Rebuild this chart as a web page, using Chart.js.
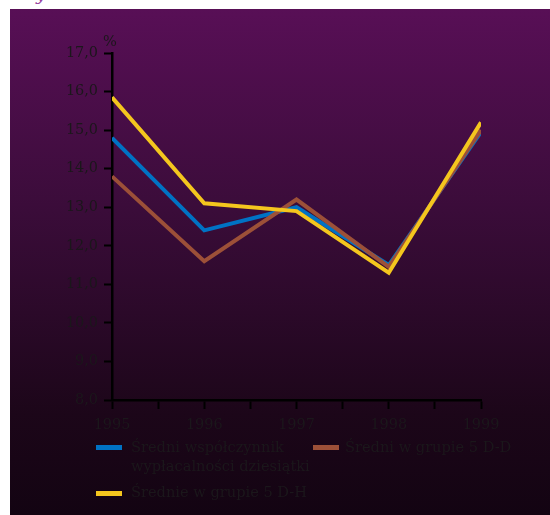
<!DOCTYPE html>
<html>
<head>
<meta charset="utf-8">
<script src="https://cdn.jsdelivr.net/npm/chart.js@4.4.1/dist/chart.umd.min.js"></script>
<style>
    html, body { margin: 0; padding: 0; background: #fff; }
    body { width: 550px; height: 515px; position: relative; overflow: hidden; font-family: 'DejaVu Serif', serif; }
    #caption { position: absolute; left: 36px; top: -16px; font-size: 17px; font-style: italic; color: #9a44a0; }
    #panel {
        position: absolute; left: 10px; top: 9px; width: 540px; height: 506px;
        background: linear-gradient(to bottom, #580f56 0%, #3a0c39 40%, #1c0619 80%, #130412 100%);
    }
    #chart { position: absolute; left: 0; top: 0; }
    .txt { position: absolute; color: #1b171b; font-size: 14.6px; line-height: 19px; white-space: nowrap; }
    .swatch { position: absolute; width: 26px; height: 5px; }
</style>
</head>
<body>
<div id="caption">y</div>
<div id="panel">
    <canvas id="chart" width="540" height="506"></canvas>
    <div class="txt" style="left:93px; top:22px;">%</div>

    <!-- legend -->
    <div class="swatch" style="left:86px; top:436px; background:#0072c4;"></div>
    <div class="txt" style="left:121px; top:428px;">Średni współczynnik<br>wypłacalności dziesiątki</div>
    <div class="swatch" style="left:303px; top:436px; background:#9c5038;"></div>
    <div class="txt" style="left:335px; top:428px;">Średni w grupie 5 D-D</div>
    <div class="swatch" style="left:86px; top:482px; background:#f4c61e;"></div>
    <div class="txt" style="left:121px; top:473px;">Średnie w grupie 5 D-H</div>
</div>

<script>
// years on the x axis
const years = [1995, 1996, 1997, 1998, 1999];

// series values (%)
const sredniWsp = [14.8, 12.4, 13.0, 11.5, 14.95];
const grupaDD = [13.8, 11.6, 13.2, 11.45, 15.0];
const grupaDH = [15.85, 13.1, 12.9, 11.3, 15.2];

// y axis range
const yMin = 8;
const yMax = 17;
const yStep = 1;

const textColor = '#1b171b';
const axisFont = { family: 'DejaVu Serif', size: 14.4 };

function toPoints(values) {
    return values.map((v, i) => ({ x: years[i], y: v }));
}

function lineSet(label, values, color, order) {
    return {
        label: label,
        data: toPoints(values),
        borderColor: color,
        backgroundColor: color,
        borderWidth: 4,
        borderJoinStyle: 'miter',
        borderCapStyle: 'butt',
        pointRadius: 0,
        tension: 0,
        fill: false,
        order: order
    };
}

new Chart(document.getElementById('chart'), {
    type: 'line',
    data: {
        datasets: [
            lineSet('Średni współczynnik wypłacalności dziesiątki', sredniWsp, '#0072c4', 3),
            lineSet('Średni w grupie 5 D-D', grupaDD, '#9c5038', 2),
            lineSet('Średnie w grupie 5 D-H', grupaDH, '#f4c61e', 1)
        ]
    },
    options: {
        responsive: false,
        animation: false,
        devicePixelRatio: 1,
        layout: { padding: { left: 0, top: 44, right: 69, bottom: 75 } },
        plugins: {
            legend: { display: false },
            tooltip: { enabled: false }
        },
        scales: {
            x: {
                type: 'linear',
                min: years[0],
                max: years[years.length - 1],
                afterFit: (scale) => { scale.height = 40; },
                ticks: {
                    stepSize: 0.5,
                    autoSkip: false,
                    maxRotation: 0,
                    padding: 8,
                    color: textColor,
                    font: axisFont,
                    callback: (value) => years.includes(value) ? String(value) : ''
                },
                grid: {
                    drawOnChartArea: false,
                    drawTicks: true,
                    tickLength: 9,
                    tickWidth: 2,
                    tickColor: '#000'
                },
                border: { display: true, color: '#000', width: 2.5 }
            },
            y: {
                min: yMin,
                max: yMax,
                afterFit: (scale) => { scale.width = 102; },
                ticks: {
                    stepSize: yStep,
                    padding: 6,
                    color: textColor,
                    font: axisFont,
                    callback: (value) => value.toFixed(1).replace('.', ',')
                },
                grid: {
                    drawOnChartArea: false,
                    drawTicks: true,
                    tickLength: 8,
                    tickWidth: 2,
                    tickColor: '#000'
                },
                border: { display: true, color: '#000', width: 2.5 }
            }
        }
    }
});
</script>
</body>
</html>
